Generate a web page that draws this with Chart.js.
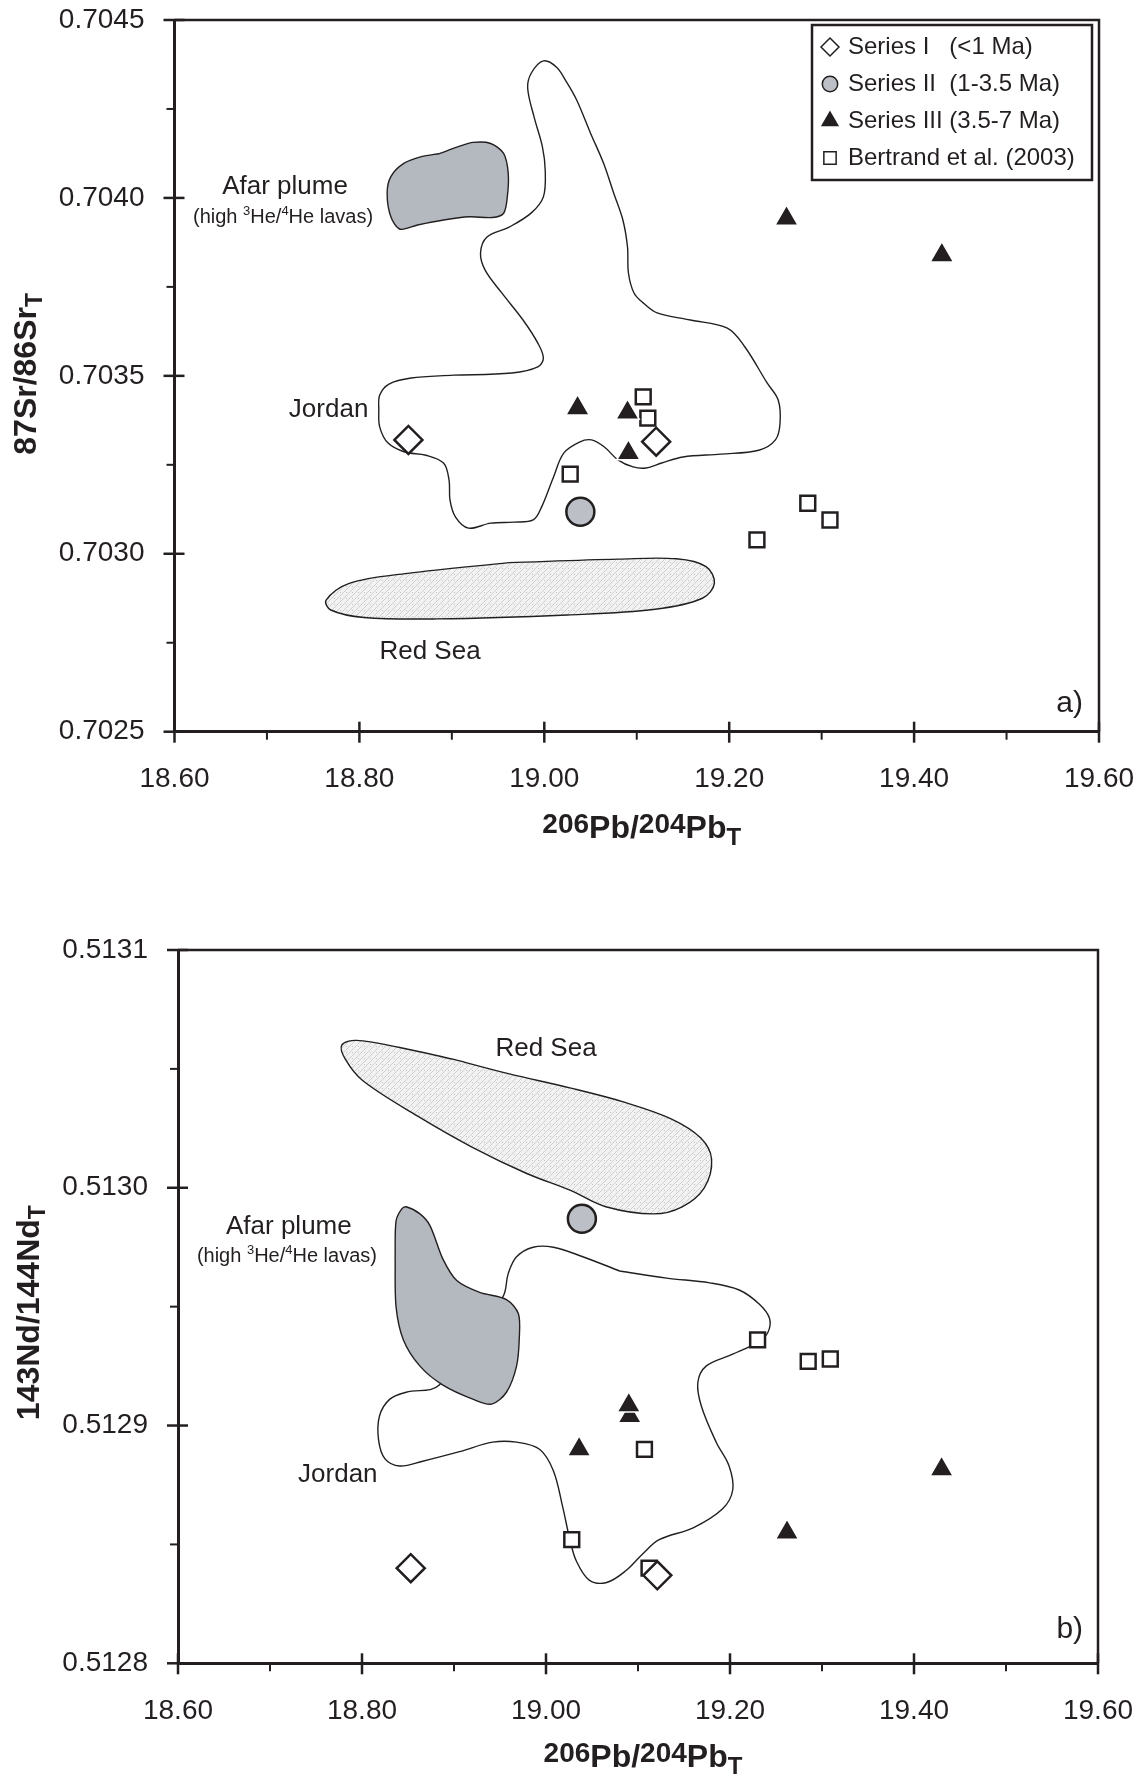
<!DOCTYPE html>
<html>
<head>
<meta charset="utf-8">
<title>Sr-Nd-Pb isotope diagrams</title>
<script src="https://cdn.jsdelivr.net/npm/chart.js@4.4.1/dist/chart.umd.min.js"></script>
<style>
  html, body { margin: 0; padding: 0; background: #ffffff; }
  #wrap { position: relative; width: 1141px; height: 1776px; overflow: hidden; }
  canvas { position: absolute; left: 0; }
  #srChart { top: 0; }
  #ndChart { top: 880px; }
</style>
</head>
<body>
<div id="wrap">
  <canvas id="srChart" width="1141" height="880"></canvas>
  <canvas id="ndChart" width="1141" height="896"></canvas>
</div>
<script>
// ---------- sample data (206Pb/204Pb, 87Sr/86Sr, 143Nd/144Nd; age-corrected) ----------
const seriesIPb   = [18.853, 19.121];
const seriesISr   = [0.70332, 0.703315];
const seriesINd   = [0.51284, 0.512837];

const seriesIIPb  = [19.039];
const seriesIISr  = [0.703118];
const seriesIINd  = [0.512987];

const seriesIIIPb = [19.036, 19.091, 19.090, 19.262, 19.430];
const seriesIIISr = [0.703409, 0.703283, 0.703397, 0.703942, 0.703839];
const seriesIIINd = [0.51289, 0.512904, 0.5129085, 0.512855, 0.5128816];

const bertrandPb  = [19.107, 19.112, 19.028, 19.285, 19.309, 19.230];
const bertrandSr  = [0.703441, 0.703381, 0.703224, 0.703142, 0.703095, 0.703039];
const bertrandNd  = [0.51289, 0.51284, 0.512852, 0.512927, 0.512928, 0.512936];

// ---------- axis ticks ----------
const pbTicks = [18.6, 18.8, 19.0, 19.2, 19.4, 19.6];
const srTicks = [0.7025, 0.7030, 0.7035, 0.7040, 0.7045];
const ndTicks = [0.5128, 0.5129, 0.5130, 0.5131];

// ---------- compositional fields, outline vertices [Pb, Sr] ----------
const jordanSrField = [
  [18.902,0.703502],[18.965,0.703508],[18.993,0.703525],[18.999,0.70355],[18.993,0.703592],
  [18.977,0.703657],[18.954,0.703733],[18.936,0.703797],[18.931,0.703845],[18.938,0.70389],
  [18.962,0.703918],[18.986,0.703958],[18.999,0.704003],[19.001,0.704078],[18.998,0.704143],
  [18.989,0.704227],[18.982,0.704309],[18.986,0.704351],[18.999,0.704385],[19.013,0.704368],
  [19.024,0.704326],[19.035,0.704275],[19.050,0.704182],[19.064,0.704098],[19.075,0.704014],
  [19.085,0.703938],[19.090,0.703862],[19.091,0.703789],[19.097,0.703733],[19.107,0.703705],
  [19.122,0.703677],[19.158,0.703657],[19.198,0.703634],[19.217,0.703581],[19.241,0.70348],
  [19.253,0.703432],[19.255,0.703367],[19.250,0.70332],[19.232,0.703291],[19.191,0.70328],
  [19.150,0.703272],[19.127,0.703255],[19.110,0.703241],[19.096,0.703244],[19.080,0.703263],
  [19.065,0.7033],[19.051,0.70332],[19.038,0.703314],[19.021,0.703283],[19.010,0.703216],
  [18.997,0.703131],[18.988,0.703095],[18.967,0.703089],[18.942,0.703086],[18.918,0.703072],
  [18.904,0.703103],[18.898,0.703151],[18.897,0.703207],[18.891,0.703255],[18.872,0.703277],
  [18.849,0.703286],[18.831,0.703311],[18.822,0.703356],[18.821,0.703404],[18.822,0.703446],
  [18.832,0.703477],[18.856,0.703494]
];
const afarSrField = [
  [18.887,0.704125],[18.907,0.704144],[18.923,0.704156],[18.942,0.704153],[18.956,0.704125],
  [18.961,0.704069],[18.960,0.704003],[18.956,0.703957],[18.944,0.703945],[18.919,0.703947],
  [18.891,0.703938],[18.863,0.703924],[18.844,0.703912],[18.834,0.703947],[18.830,0.704013],
  [18.834,0.70406],[18.848,0.704097],[18.867,0.704116]
];
const redSeaSrField = [
  [18.962,0.702975],[19.080,0.702985],[19.143,0.702986],[19.175,0.702964],[19.184,0.702917],
  [19.171,0.702875],[19.120,0.702844],[19.025,0.702828],[18.884,0.702817],[18.805,0.702821],
  [18.769,0.702842],[18.764,0.70287],[18.789,0.702917],[18.852,0.702945]
];

// ---------- compositional fields, outline vertices [Pb, Nd] ----------
const jordanNdField = [
  [19.080,0.512965],[19.131,0.512962],[19.178,0.51296],[19.210,0.512957],[19.232,0.512951],
  [19.243,0.512945],[19.241,0.512939],[19.230,0.512935],[19.203,0.51293],[19.174,0.512925],
  [19.165,0.512918],[19.169,0.512908],[19.185,0.512893],[19.199,0.512883],[19.203,0.512873],
  [19.192,0.512865],[19.160,0.512857],[19.123,0.512852],[19.105,0.512846],[19.087,0.512839],
  [19.066,0.512834],[19.047,0.512835],[19.033,0.512843],[19.026,0.512852],[19.018,0.512866],
  [19.008,0.512881],[18.993,0.51289],[18.968,0.512893],[18.942,0.512893],[18.906,0.512889],
  [18.866,0.512885],[18.841,0.512883],[18.825,0.512886],[18.818,0.512894],[18.819,0.512904],
  [18.830,0.512911],[18.848,0.512914],[18.884,0.512917],[18.953,0.512954],[18.959,0.512964],
  [18.968,0.512971],[18.986,0.512975],[19.008,0.512975],[19.040,0.512971]
];
const afarNdField = [
  [18.836,0.512971],[18.837,0.512986],[18.843,0.512991],[18.848,0.512992],[18.863,0.512989],
  [18.874,0.512984],[18.888,0.51297],[18.903,0.512961],[18.928,0.512956],[18.957,0.512953],
  [18.970,0.512947],[18.971,0.512937],[18.968,0.512925],[18.957,0.512914],[18.941,0.512909],
  [18.921,0.512911],[18.888,0.512917],[18.863,0.512925],[18.845,0.512936],[18.837,0.51295]
];
const redSeaNdField = [
  [18.900,0.513054],[18.959,0.513048],[19.026,0.513042],[19.085,0.513036],[19.136,0.513029],
  [19.168,0.513021],[19.180,0.513012],[19.172,0.513],[19.148,0.512992],[19.117,0.512989],
  [19.065,0.512992],[19.026,0.512999],[18.979,0.513006],[18.920,0.513017],[18.861,0.51303],
  [18.801,0.513045],[18.782,0.513054],[18.778,0.51306],[18.794,0.513062],[18.841,0.513059]
];

// ---------- styling ----------
const INK = '#231f20';
const FONT = "'Liberation Sans', Arial, Helvetica, sans-serif";
Chart.defaults.font.family = FONT;
Chart.defaults.color = INK;

const pts = (xs, ys) => xs.map((x, i) => ({ x, y: ys[i] }));
const ring = (pairs) => pairs.concat([pairs[0]]).map(([x, y]) => ({ x, y }));

// light hatched / stippled fill used for the Red Sea MORB field
function redSeaPattern() {
  const c = document.createElement('canvas');
  c.width = 6; c.height = 6;
  const g = c.getContext('2d');
  g.fillStyle = '#f2f2f3';
  g.fillRect(0, 0, 6, 6);
  g.strokeStyle = '#cfd0d3';
  g.lineWidth = 1;
  g.beginPath(); g.moveTo(-1, 7); g.lineTo(7, -1); g.stroke();
  g.fillStyle = '#c2c4c8';
  g.fillRect(4, 4, 1, 1);
  return g.createPattern(c, 'repeat');
}
const hatch = redSeaPattern();

function sampleSets(yI, yII, yIII, yB) {
  return [
    { label: 'Series I   (<1 Ma)', data: pts(seriesIPb, yI), pointStyle: 'rectRot', pointRadius: 14,
      backgroundColor: '#ffffff', borderColor: INK, borderWidth: 2.5, order: 0 },
    { label: 'Series II  (1-3.5 Ma)', data: pts(seriesIIPb, yII), pointStyle: 'circle', pointRadius: 14,
      backgroundColor: '#bcc0c6', borderColor: INK, borderWidth: 2.5, order: 2 },
    { label: 'Series III (3.5-7 Ma)', data: pts(seriesIIIPb, yIII), pointStyle: 'triangle', pointRadius: 13.5,
      backgroundColor: INK, borderColor: '#ffffff', borderWidth: 1.5, order: 1 },
    { label: 'Bertrand et al. (2003)', data: pts(bertrandPb, yB), pointStyle: 'rect', pointRadius: 10.5,
      backgroundColor: '#ffffff', borderColor: INK, borderWidth: 2.5, order: 3 }
  ];
}

function fieldSets(jordan, afar, redSea) {
  const base = { showLine: true, pointRadius: 0, pointHitRadius: 0, borderColor: INK,
                 borderWidth: 1.4, borderJoinStyle: 'round', tension: 0.35 };
  return [
    Object.assign({}, base, { label: 'Afar plume', data: ring(afar), backgroundColor: '#b4b9c0', fill: 'shape', order: 5, tension: 0.3 }),
    Object.assign({}, base, { label: 'Jordan', data: ring(jordan), fill: false, order: 6 }),
    Object.assign({}, base, { label: 'Red Sea', data: ring(redSea), backgroundColor: hatch, fill: 'shape', order: 7 })
  ];
}

// text made of runs: [text, size, bold, dy]
function drawRuns(ctx, runs, x, y, align) {
  const fontOf = r => (r[2] ? 'bold ' : '') + r[1] + 'px ' + FONT;
  let w = 0;
  runs.forEach(r => { ctx.font = fontOf(r); w += ctx.measureText(r[0]).width; });
  let cx = align === 'left' ? x : x - w / 2;
  runs.forEach(r => {
    ctx.font = fontOf(r);
    ctx.fillText(r[0], cx, y + (r[3] || 0));
    cx += ctx.measureText(r[0]).width;
  });
}

// frame, tick marks, field names, axis titles and key
const decor = {
  id: 'decor',
  afterDraw(chart, args, o) {
    const { ctx, chartArea: a } = chart;
    const sx = chart.scales.x, sy = chart.scales.y;
    const seg = (x1, y1, x2, y2) => { ctx.beginPath(); ctx.moveTo(x1, y1); ctx.lineTo(x2, y2); ctx.stroke(); };
    ctx.save();
    ctx.strokeStyle = INK;
    ctx.fillStyle = INK;
    ctx.lineCap = 'butt';

    ctx.lineWidth = 2.5;
    ctx.beginPath();
    ctx.moveTo(a.left, a.top); ctx.lineTo(a.right, a.top); ctx.lineTo(a.right, a.bottom);
    ctx.stroke();

    const xv = sx.ticks.map(t => t.value), yv = sy.ticks.map(t => t.value);
    ctx.lineWidth = 2.5;
    xv.forEach(v => { const p = sx.getPixelForValue(v); seg(p, a.bottom - 10, p, a.bottom + 11); });
    yv.forEach(v => { const p = sy.getPixelForValue(v); seg(a.left - 11, p, a.left + 10, p); });
    ctx.lineWidth = 2;
    for (let i = 0; i < xv.length - 1; i++) {
      const p = sx.getPixelForValue((xv[i] + xv[i + 1]) / 2); seg(p, a.bottom, p, a.bottom + 8);
    }
    for (let i = 0; i < yv.length - 1; i++) {
      const p = sy.getPixelForValue((yv[i] + yv[i + 1]) / 2); seg(a.left - 8, p, a.left, p);
    }

    ctx.textBaseline = 'alphabetic';
    o.notes.forEach(n => {
      const px = sx.getPixelForValue(n.x), py = sy.getPixelForValue(n.y);
      drawRuns(ctx, n.runs, px, py + 0.34 * n.runs[0][1]);
    });

    drawRuns(ctx, o.xTitle, (a.left + a.right) / 2 + o.xTitleAt[0], a.bottom + o.xTitleAt[1]);

    ctx.save();
    ctx.translate(a.left + o.yTitleAt[0], (a.top + a.bottom) / 2 + o.yTitleAt[1]);
    ctx.rotate(-Math.PI / 2);
    drawRuns(ctx, o.yTitle, 0, 0);
    ctx.restore();

    if (o.key) {
      const k = o.key;
      const left = a.right - k.inset - k.width, top = a.top + k.top;
      ctx.lineWidth = 2.5;
      ctx.strokeStyle = INK;
      ctx.strokeRect(left, top, k.width, k.height);
      ctx.textBaseline = 'middle';
      ctx.font = k.font + 'px ' + FONT;
      chart.data.datasets.slice(0, 4).forEach((ds, i) => {
        const cy = top + k.first + i * k.gap;
        ctx.fillStyle = ds.backgroundColor;
        ctx.strokeStyle = INK;
        ctx.lineWidth = 1.5;
        Chart.helpers.drawPoint(ctx, { pointStyle: ds.pointStyle, radius: k.radii[i], borderWidth: 1.5, rotation: 0 },
                                left + k.markerX, cy);
        ctx.fillStyle = INK;
        ctx.fillText(ds.label, left + k.textX, cy);
      });
    }
    ctx.restore();
  }
};

const plumeRuns = [['(high ', 20], ['3', 13, false, -8], ['He/', 20], ['4', 13, false, -8], ['He lavas)', 20]];
const pbTitle = [['206', 28, true, -5], ['Pb', 32, true], ['/', 32, true], ['204', 28, true, -5], ['Pb', 32, true], ['T', 24, true, 7]];

// invisible tick marks give the label offset without padding the layout
const offsetGrid = len => ({ display: true, drawOnChartArea: false, drawTicks: true, tickLength: len,
                             tickColor: 'rgba(0,0,0,0)', color: 'rgba(0,0,0,0)' });

function panel(id, cfg) {
  return new Chart(document.getElementById(id), {
    type: 'scatter',
    data: { datasets: cfg.datasets },
    options: {
      responsive: false,
      animation: false,
      devicePixelRatio: 1,
      events: [],
      layout: { padding: cfg.padding },
      plugins: { legend: { display: false }, tooltip: { enabled: false }, decor: cfg.decor },
      scales: {
        x: {
          type: 'linear', position: 'bottom', min: 18.6, max: 19.6,
          afterBuildTicks: s => { s.ticks = pbTicks.map(v => ({ value: v })); },
          afterFit: s => { s.height = cfg.xAxisHeight; },
          grid: offsetGrid(31),
          border: { display: true, color: INK, width: 3 },
          ticks: { font: { size: 28 }, color: INK, padding: 0, autoSkip: false, maxRotation: 0,
                   callback: v => Number(v).toFixed(2) }
        },
        y: {
          type: 'linear', position: 'left', min: cfg.yTicks[0], max: cfg.yTicks[cfg.yTicks.length - 1],
          afterBuildTicks: s => { s.ticks = cfg.yTicks.map(v => ({ value: v })); },
          afterFit: s => { s.width = cfg.yAxisWidth; },
          grid: offsetGrid(30),
          border: { display: true, color: INK, width: 3 },
          ticks: { font: { size: 28 }, color: INK, padding: 0, autoSkip: false,
                   callback: v => Number(v).toFixed(4) }
        }
      }
    },
    plugins: [decor]
  });
}

// a) 87Sr/86Sr vs 206Pb/204Pb
panel('srChart', {
  datasets: sampleSets(seriesISr, seriesIISr, seriesIIISr, bertrandSr)
    .concat(fieldSets(jordanSrField, afarSrField, redSeaSrField)),
  yTicks: srTicks,
  padding: { top: 20, right: 42, left: 0, bottom: 0 },
  yAxisWidth: 174.5,
  xAxisHeight: 148.3,
  decor: {
    notes: [
      { x: 18.7196, y: 0.7040363, runs: [['Afar plume', 26]] },
      { x: 18.7174, y: 0.7039491, runs: plumeRuns },
      { x: 18.7667, y: 0.7034095, runs: [['Jordan', 26]] },
      { x: 18.8764, y: 0.7027293, runs: [['Red Sea', 26]] },
      { x: 19.5683, y: 0.7025832, runs: [['a)', 30]] }
    ],
    xTitle: pbTitle,
    xTitleAt: [5, 106],
    yTitle: [['87Sr/86Sr', 32, true], ['T', 23, true, 6]],
    yTitleAt: [-139, -2],
    key: { inset: 7, top: 5, width: 280, height: 155, first: 22, gap: 37, markerX: 18, textX: 36,
           font: 24, radii: [9, 7.7, 9, 8.7] }
  }
});

// b) 143Nd/144Nd vs 206Pb/204Pb
panel('ndChart', {
  datasets: sampleSets(seriesINd, seriesIINd, seriesIIINd, bertrandNd)
    .concat(fieldSets(jordanNdField, afarNdField, redSeaNdField)),
  yTicks: ndTicks,
  padding: { top: 70, right: 43, left: 0, bottom: 0 },
  yAxisWidth: 178,
  xAxisHeight: 112.7,
  decor: {
    notes: [
      { x: 19.0,    y: 0.5130592, runs: [['Red Sea', 26]] },
      { x: 18.7205, y: 0.5129844, runs: [['Afar plume', 26]] },
      { x: 18.7184, y: 0.5129717, runs: plumeRuns },
      { x: 18.7737, y: 0.5128801, runs: [['Jordan', 26]] },
      { x: 19.5693, y: 0.5128149, runs: [['b)', 30]] }
    ],
    xTitle: pbTitle,
    xTitleAt: [5, 104],
    yTitle: [['143Nd/144Nd', 32, true], ['T', 23, true, 6]],
    yTitleAt: [-139, 6],
    key: null
  }
});
</script>
</body>
</html>
